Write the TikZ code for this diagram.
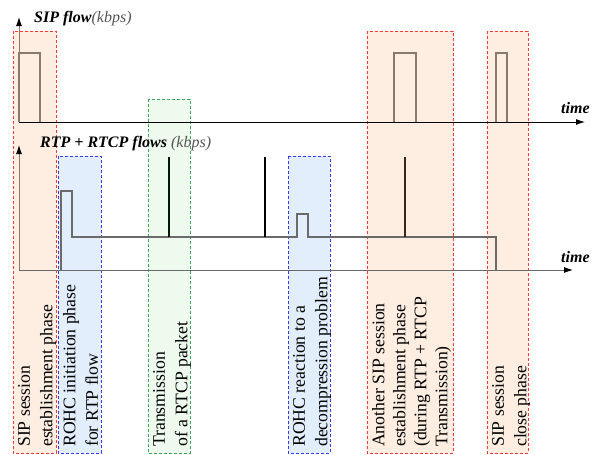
\documentclass[tikz,border=0pt]{standalone}
\usepackage{fontspec}
\setmainfont{Liberation Serif}
\usetikzlibrary{arrows.meta}
\definecolor{sipfill}{HTML}{FDEEE1}
\definecolor{rohcfill}{HTML}{E2EEFB}
\definecolor{rtcpfill}{HTML}{EEFAEE}
\definecolor{sipline}{HTML}{FF3838}
\definecolor{rohcline}{HTML}{3838FF}
\definecolor{rtcpline}{HTML}{38A858}
\definecolor{pulsecol}{HTML}{8A7A6C}
\definecolor{rtpcol}{HTML}{6A6A6A}
\definecolor{kbpscol}{HTML}{555555}
\tikzset{every picture/.append style={line join=miter}}

\begin{document}
\begin{tikzpicture}[x=1pt, y=-1pt,
  sipbox/.style={draw=sipline, line width=0.8pt, dash pattern=on 3pt off 2pt, fill=sipfill},
  rohcbox/.style={draw=rohcline, line width=0.8pt, dash pattern=on 3pt off 2pt, fill=rohcfill},
  rtcpbox/.style={draw=rtcpline, line width=0.8pt, dash pattern=on 3pt off 2pt, fill=rtcpfill},
  phase/.style={rotate=90, anchor=north west, align=left, inner sep=0pt,
    font=\fontsize{17.7}{22.5}\selectfont},
  axislabel/.style={anchor=base west, inner sep=0pt, font=\fontsize{16}{18}\selectfont},
  timeaxis/.style={line width=0.9pt, -{Latex[length=9pt,width=6pt]}},
  flowaxis/.style={line width=0.9pt, draw=pulsecol, -{Latex[length=9pt,width=6pt,color=black]}},
  pulse/.style={line width=1.3pt, draw=pulsecol},
  spike/.style={line width=2.6pt}]
  \useasboundingbox (0,0) rectangle (600,455);

  % Phase boxes
  \draw[sipbox] (13,31) rectangle (56,453);
  \draw[rohcbox] (58,156) rectangle (101,453);
  \draw[rtcpbox] (148,99) rectangle (190,453);
  \draw[rohcbox] (288,156) rectangle (330,453);
  \draw[sipbox] (367,31) rectangle (453,453);
  \draw[sipbox] (487,31) rectangle (528,453);

  % Phase captions
  \node[phase] (sipopen) at (18,447) {SIP session\\establishment phase};
  \node[phase] (rohcinit) at (63,447) {ROHC initiation phase\\for RTP flow};
  \node[phase] (rtcpsend) at (153,447) {Transmission\\of a RTCP packet};
  \node[phase] (rohcfix) at (293,447) {ROHC reaction to a\\decompression problem};
  \node[phase, font=\fontsize{17.7}{21}\selectfont] (sipagain) at (372,447)
    {Another SIP session\\establishment phase\\(during RTP + RTCP\\Transmission)};
  \node[phase] (sipclose) at (492,447) {SIP session\\close phase};

  % SIP flow axes
  \coordinate (sipO) at (19,122);
  \coordinate (sipY) at (19,17);
  \coordinate (sipX) at (585,122);
  \draw[flowaxis] (sipO) -- (sipY);
  \draw[timeaxis] (sipO) -- (sipX);
  \node[axislabel] (siplabel) at (34,22)
    {\textbf{\textit{SIP flow}}\textcolor{kbpscol}{\textit{(kbps)}}};
  \node[axislabel] (siptime) at (561,113) {\textbf{\textit{time}}};

  % SIP pulses
  \draw[pulse] (19,122) -- (19,53) -- (40,53) -- (40,122);
  \draw[pulse] (394,122) -- (394,53) -- (416,53) -- (416,122);
  \draw[pulse] (496,122) -- (496,53) -- (507,53) -- (507,122);

  % RTP + RTCP flow axes
  \coordinate (rtpO) at (19,270);
  \coordinate (rtpY) at (19,145);
  \coordinate (rtpX) at (573,270);
  \draw[flowaxis] (rtpO) -- (rtpY);
  \draw[timeaxis, draw=rtpcol, -{Latex[length=9pt,width=6pt,color=black]}] (rtpO) -- (rtpX);
  \node[axislabel] (rtplabel) at (40,147)
    {\textbf{\textit{RTP + RTCP flows}} \textcolor{kbpscol}{\textit{(kbps)}}};
  \node[axislabel] (rtptime) at (561,262) {\textbf{\textit{time}}};

  % RTP signal
  \draw[pulse, draw=rtpcol] (61,270) -- (61,191) -- (72,191) -- (72,237)
    -- (297,237) -- (297,214) -- (308,214) -- (308,237)
    -- (496,237) -- (496,270);

  % RTCP packets
  \draw[spike, draw=black!75!green!40!black] (169,237) -- (169,157);
  \draw[spike, draw=black] (265,237) -- (265,157);
  \draw[spike, draw=black!70!brown] (405,237) -- (405,157);
\end{tikzpicture}
\end{document}
